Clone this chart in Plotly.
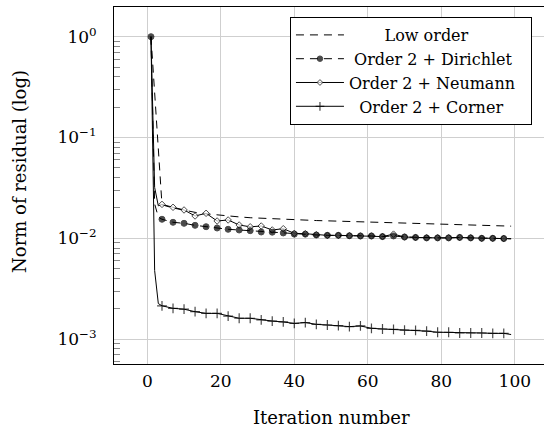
import plotly.graph_objects as go

# ---- data ----
x_low = [1, 4, 7, 10, 13, 16, 19, 22, 25, 28, 31, 34, 37, 40, 43, 46, 49, 52, 55, 58,
         61, 64, 67, 70, 73, 76, 79, 82, 85, 88, 91, 94, 97, 99]
low_order = [1.0, 0.0215, 0.0200, 0.0189, 0.0181, 0.0175, 0.0170, 0.0166, 0.0163, 0.0160,
             0.0158, 0.0156, 0.0154, 0.0152, 0.0151, 0.0150, 0.0149, 0.0148, 0.0147, 0.0146,
             0.0145, 0.0144, 0.0143, 0.0142, 0.0141, 0.0140, 0.0139, 0.0138, 0.0137, 0.0136,
             0.0135, 0.0134, 0.0133, 0.0132]

x_o2 = [1, 2, 3, 4, 7, 10, 13, 16, 19, 22, 25, 28, 31, 34, 37, 40, 43, 46, 49, 52, 55, 58,
        61, 64, 67, 70, 73, 76, 79, 82, 85, 88, 91, 94, 97, 99]
dirichlet = [1.0, 0.022, 0.0162,
             0.01544, 0.01441, 0.01408, 0.01345, 0.01303, 0.01265, 0.01228, 0.01209, 0.0119,
             0.01155, 0.0115, 0.0113, 0.0110, 0.0110, 0.01078, 0.0107, 0.0107, 0.0106, 0.01055,
             0.01055, 0.0104, 0.01055, 0.0103, 0.0102, 0.0101, 0.0101, 0.0101, 0.0102, 0.0101,
             0.0100, 0.0100, 0.00995, 0.0099]
neumann = [1.0, 0.032, 0.021,
           0.0217, 0.0203, 0.0191, 0.01665, 0.0177, 0.01485, 0.0152, 0.01355, 0.0130,
           0.01324, 0.0121, 0.01245, 0.0112, 0.0111, 0.01085, 0.0107, 0.0107, 0.0106, 0.01055,
           0.01055, 0.0104, 0.0110, 0.0103, 0.0102, 0.0101, 0.0101, 0.0101, 0.0102, 0.0101,
           0.0100, 0.0100, 0.00995, 0.0099]
corner = [1.0, 0.0048, 0.00225,
          0.00214, 0.00202, 0.00198, 0.00187, 0.00180, 0.00180, 0.00169, 0.00161, 0.00161,
          0.00155, 0.00151, 0.00148, 0.00143, 0.00146, 0.00140, 0.00138, 0.00136, 0.00133,
          0.00135, 0.00128, 0.00126, 0.00125, 0.00123, 0.00122, 0.00120, 0.00117, 0.00117,
          0.00115, 0.00115, 0.00115, 0.00114, 0.00114, 0.00111]

x_ticks = [0, 20, 40, 60, 80, 100]
y_ticks = [1e-3, 1e-2, 1e-1, 1e0]
y_tick_text = ["10<sup>\u22123</sup>", "10<sup>\u22122</sup>", "10<sup>\u22121</sup>", "10<sup>0</sup>"]
y_minor = [m * 10.0 ** e for e in (-4, -3, -2, -1, 0) for m in range(2, 10)]

FONT = "DejaVu Serif"
NB = "\u00a0"

def sizes(xs, s, first=True):
    # marks every 3rd iteration (1, 4, 7, ...)
    out = []
    for x in xs:
        on = (x - 1) % 3 == 0 and x <= 97 and (first or x > 1)
        out.append(s if on else 0)
    return out

fig = go.Figure()
fig.add_trace(go.Scatter(
    x=x_low, y=low_order, mode="lines", name=NB * 7 + "Low order", legendrank=1,
    line=dict(color="black", width=1, dash="8px,6px")))
fig.add_trace(go.Scatter(
    x=x_o2, y=neumann, mode="lines+markers", name="Order 2 + Neumann" + NB * 2, legendrank=3,
    line=dict(color="black", width=1),
    marker=dict(symbol="diamond", size=sizes(x_o2, 5, first=False), color="white",
                line=dict(color="black", width=1))))
fig.add_trace(go.Scatter(
    x=x_o2, y=corner, mode="lines+markers", name=NB * 2 + "Order 2 + Corner", legendrank=4,
    line=dict(color="black", width=1),
    marker=dict(symbol="cross-thin", size=sizes(x_o2, 7, first=False), color="black",
                line=dict(color="black", width=1.2))))
fig.add_trace(go.Scatter(
    x=x_o2, y=dirichlet, mode="lines+markers", name=NB + "Order 2 + Dirichlet", legendrank=2,
    line=dict(color="black", width=1, dash="8px,6px"),
    marker=dict(symbol="circle", size=sizes(x_o2, 6), color="black",
                line=dict(color="black", width=1))))

fig.update_layout(
    width=544, height=429,
    margin=dict(l=114, r=0, t=7, b=65, autoexpand=False),
    paper_bgcolor="white", plot_bgcolor="white",
    font=dict(family=FONT, size=17, color="black"),
    showlegend=True,
    legend=dict(
        x=0.972, xanchor="right", y=0.972, yanchor="top",
        bgcolor="white", bordercolor="black", borderwidth=1,
        font=dict(family=FONT, size=16), itemwidth=48, tracegroupgap=0),
    xaxis=dict(
        range=[-9.06, 107.95], tickvals=x_ticks, ticktext=[str(v) for v in x_ticks],
        showgrid=True, gridcolor="#cfcfcf", gridwidth=1,
        showline=True, linecolor="black", linewidth=1, mirror=True,
        ticks="inside", ticklen=5, tickcolor="#cfcfcf", zeroline=False,
        ticklabelstandoff=2, automargin=False,
    ),
    yaxis=dict(
        type="log", range=[-3.247, 0.2946], tickvals=y_ticks, ticktext=y_tick_text,
        showgrid=True, gridcolor="#cfcfcf", gridwidth=1,
        showline=True, linecolor="black", linewidth=1, mirror=False,
        ticks="inside", ticklen=6, tickcolor="#cfcfcf", zeroline=False,
        ticklabelstandoff=13, automargin=False,
        minor=dict(tickmode="array", tickvals=y_minor, ticks="inside", ticklen=6,
                   tickcolor="#8a8a8a", showgrid=False),
    ),
    annotations=[
        dict(text="Iteration number", xref="paper", yref="paper", x=0.505, y=-0.151,
             xanchor="center", yanchor="middle", showarrow=False,
             font=dict(family=FONT, size=18)),
        dict(text="Norm of residual (log)", xref="paper", yref="paper", x=-0.2186, y=0.538,
             xanchor="center", yanchor="middle", showarrow=False, textangle=-90,
             font=dict(family=FONT, size=18)),
    ],
)

fig.write_html("out.html", config={"displayModeBar": False},
               post_script="document.body.style.margin='0';")
